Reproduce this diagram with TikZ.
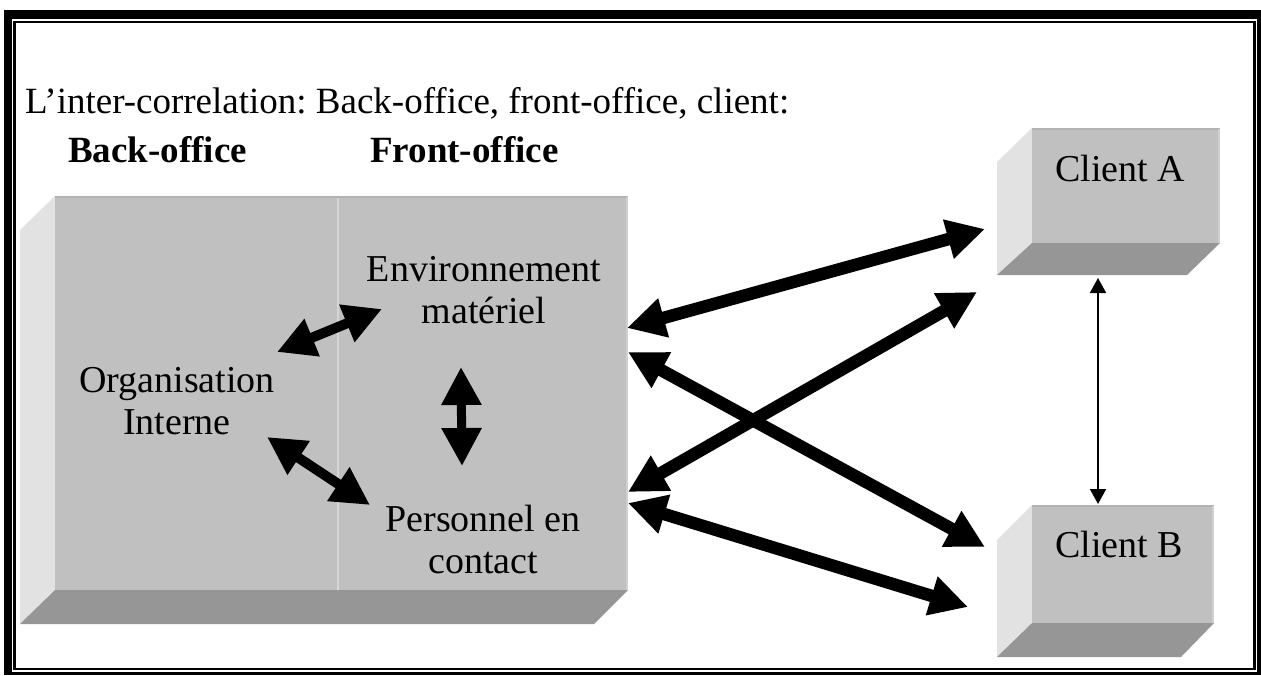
\documentclass[tikz,border=0pt]{standalone}
\usepackage{fontspec}
\setmainfont{Liberation Serif}
\frenchspacing
\usetikzlibrary{arrows.meta}
\definecolor{frontgray}{RGB}{192,192,192}
\definecolor{sidegray}{RGB}{226,226,226}
\definecolor{bottomgray}{RGB}{150,150,150}
\definecolor{divgray}{RGB}{214,214,214}
\definecolor{topedge}{RGB}{178,178,178}
\definecolor{rightedge}{RGB}{208,208,208}
\begin{document}
\begin{tikzpicture}[x=1pt,y=-1pt,
  lbl/.style={font=\fontsize{38}{42}\selectfont, align=center, inner sep=0pt, anchor=north},
  onelbl/.style={font=\fontsize{38}{42}\selectfont, inner sep=0pt, anchor=base},
  hdr/.style={font=\fontsize{37}{42}\selectfont\bfseries, inner sep=0pt, anchor=base west},
  ttl/.style={font=\fontsize{37}{42}\selectfont, inner sep=0pt, anchor=base west},
  face/.style={fill=frontgray, draw=none, inner sep=0pt, anchor=north west},
  bigarrow/.style={line width=12.5pt, {Triangle[length=38pt,width=38pt]}-{Triangle[length=38pt,width=38pt]}},
  smallarrow/.style={line width=10pt, {Triangle[length=38pt,width=38pt]}-{Triangle[length=38pt,width=38pt]}},
  thinarrow/.style={line width=1.8pt, {Triangle[length=15pt,width=16pt]}-{Triangle[length=15pt,width=16pt]}}]
\useasboundingbox (0,0) rectangle (1261,675);
\fill[white] (0,0) rectangle (1261,675);
% frame
\fill[black] (4,10) rectangle (1261,18.5);
\fill[black] (4,10) rectangle (12,675);
\fill[black] (1257,10) rectangle (1261,675);
\fill[black] (4,672) rectangle (1261,675);
\draw[black, line width=2.2pt] (14.5,21.7) rectangle (1254.5,669.2);
% title and headers
\node[ttl] (title) at (25,113) {L’inter-correlation: Back-office, front-office, client:};
\node[hdr] (back) at (68,162) {Back-office};
\node[hdr] (fronth) at (370,162) {Front-office};
% big box
\fill[sidegray] (55,196) -- (20,230) -- (20,624) -- (55,590) -- cycle;
\fill[bottomgray] (55,590) -- (628,590) -- (594,624) -- (20,624) -- cycle;
\node[face, minimum width=573pt, minimum height=394pt] (front) at (55,196) {};
\draw[divgray, line width=2pt] (338,197) -- (338,590);
\draw[topedge, line width=2pt] (55,197) -- (628,197);
\draw[rightedge, line width=2pt] (627,197) -- (627,590);
% client A box
\fill[sidegray] (1032,128) -- (997,162) -- (997,275) -- (1032,243) -- cycle;
\fill[bottomgray] (1032,243) -- (1220,243) -- (1187,275) -- (997,275) -- cycle;
\node[face, minimum width=188pt, minimum height=115pt] (boxA) at (1032,128) {};
\draw[topedge, line width=2pt] (1032,129) -- (1220,129);
\draw[rightedge, line width=2pt] (1219,129) -- (1219,243);
% client B box
\fill[sidegray] (1032,505) -- (997,540) -- (997,657) -- (1032,623) -- cycle;
\fill[bottomgray] (1032,623) -- (1214,623) -- (1181,657) -- (997,657) -- cycle;
\node[face, minimum width=182pt, minimum height=118pt] (boxB) at (1032,505) {};
\draw[topedge, line width=2pt] (1032,506) -- (1214,506);
\draw[rightedge, line width=2pt] (1213,506) -- (1213,623);
% labels
\node[lbl] (env) at (484,256) {Environnement\\matériel};
\node[lbl] (org) at (177,367) {Organisation\\Interne};
\node[lbl] (pers) at (483,505) {Personnel en\\contact};
\node[onelbl] (clA) at (1120,181) {Client A};
\node[onelbl] (clB) at (1119,557) {Client B};
% arrow end points
\coordinate (oe1) at (277,352); \coordinate (oe2) at (382,309);
\coordinate (op1) at (267,437); \coordinate (op2) at (370,505);
\coordinate (ep1) at (461,367); \coordinate (ep2) at (462,466);
\coordinate (eA1) at (627,328); \coordinate (eA2) at (985,229);
\coordinate (eB1) at (628,352); \coordinate (eB2) at (985,547);
\coordinate (pA1) at (628,492); \coordinate (pA2) at (977,292);
\coordinate (pB1) at (628,503); \coordinate (pB2) at (968,607);
\coordinate (ab1) at (1098,278); \coordinate (ab2) at (1098,504);
% arrows
\draw[smallarrow] (oe1) -- (oe2);
\draw[smallarrow] (op1) -- (op2);
\draw[smallarrow, line width=9pt] (ep1) -- (ep2);
\draw[bigarrow] (eA1) -- (eA2);
\draw[bigarrow] (eB1) -- (eB2);
\draw[bigarrow] (pA1) -- (pA2);
\draw[bigarrow] (pB1) -- (pB2);
\draw[thinarrow] (ab1) -- (ab2);
\end{tikzpicture}
\end{document}
